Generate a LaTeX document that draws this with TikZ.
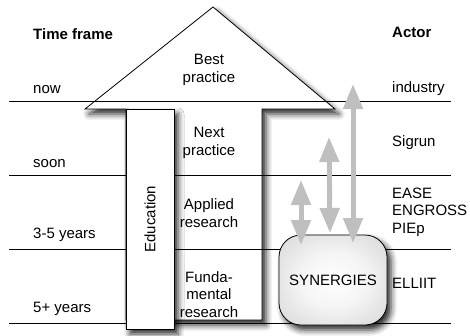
\documentclass[tikz,border=0pt]{standalone}
\usepackage{fontspec}
\setmainfont{Liberation Sans}
\usetikzlibrary{arrows.meta,shadows.blur}

\pgfdeclareradialshading{synshade}{\pgfpoint{0bp}{0bp}}{color(0bp)=(white); color(15bp)=(black!4); color(50bp)=(black!24); color(72bp)=(black!34)}

\begin{document}
\begin{tikzpicture}[x=1pt,y=-1pt,
		every node/.style={font=\fontsize{15}{17.5}\selectfont, inner sep=0pt},
		tline/.style={line width=0.8pt},
		lbl/.style={anchor=base west, align=left},
		mid/.style={anchor=base, align=center},
		soft/.style={blur shadow={shadow xshift=4pt, shadow yshift=-5pt, shadow blur radius=6pt, shadow opacity=85}},
		link/.style={black!25, line width=5pt, {Triangle[width=19pt,length=25pt]}-{Triangle[width=19pt,length=25pt]}}]
		\useasboundingbox (0,0) rectangle (470,335);

		% big arrow
		\draw[fill=white, line width=0.8pt, soft] (126,320) -- (126,109) -- (85,109) -- (213,7) -- (335,109) -- (262,109) -- (262,320) -- cycle;

		% time lines
		\draw[tline] (9,101) -- (451,101);
		\draw[tline] (9,175) -- (451,175);
		\draw[tline] (9,249) -- (451,249);
		\draw[tline] (9,323) -- (451,323);

		\draw[fill=white, line width=0.8pt, soft] (126,109) rectangle (174,329);
		\node[rotate=90] (edu) at (150,219) {Education};

		\node[draw, line width=0.8pt, rounded corners=22pt, minimum width=108pt, minimum height=90pt,
			shading=synshade, soft] (syn) at (333,280) {SYNERGIES};

		% links to synergies
		\coordinate (near) at (301,180);
		\coordinate (nearend) at (301,245);
		\coordinate (mid) at (329,137);
		\coordinate (midend) at (330,233);
		\coordinate (far) at (353,84);
		\coordinate (farend) at (353,243);
		\draw[link] (nearend) -- (near);
		\draw[link] (midend) -- (mid);
		\draw[link] (farend) -- (far);

		% stages (base = last line)
		\node[mid] (best) at (209,82) {Best\\practice};
		\node[mid] (next) at (209,155) {Next\\practice};
		\node[mid] (applied) at (209,227) {Applied\\research};
		\node[mid] (fund) at (209,317) {Funda-\\mental\\research};

		% time frame
		\node[lbl, font=\fontsize{15}{17.5}\selectfont\bfseries] (time) at (33,39) {Time frame};
		\node[lbl] (now) at (33,93) {now};
		\node[lbl] (soon) at (33,167) {soon};
		\node[lbl] (three) at (33,238) {3-5 years};
		\node[lbl] (five) at (33,312) {5+ years};

		% actors
		\node[lbl, font=\fontsize{15}{17.5}\selectfont\bfseries] (actor) at (392,37) {Actor};
		\node[lbl] (ind) at (392,92) {industry};
		\node[lbl] (sig) at (392,146) {Sigrun};
		\node[lbl] (ease) at (392,233) {EASE\\ENGROSS\\PIEp};
		\node[lbl] (ell) at (392,288) {ELLIIT};

	\end{tikzpicture}
\end{document}
